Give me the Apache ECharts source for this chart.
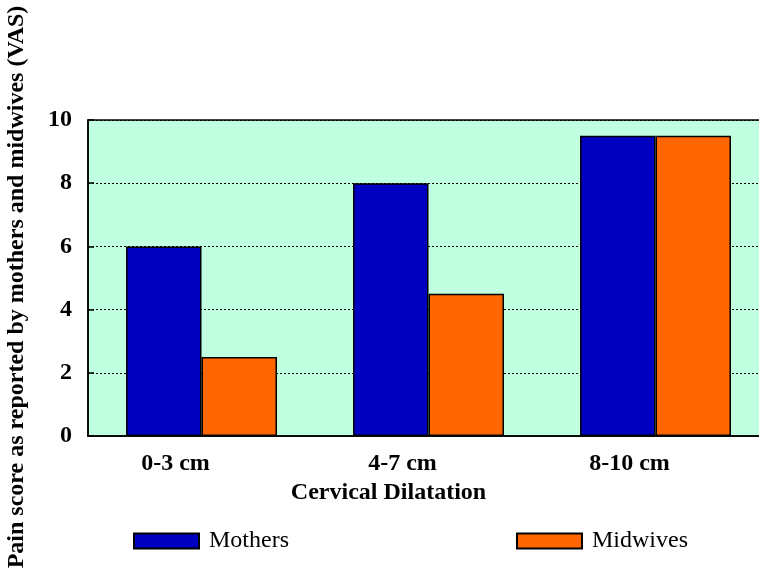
<!DOCTYPE html>
<html>
<head>
<meta charset="utf-8">
<script src="https://cdn.jsdelivr.net/npm/echarts@6/dist/echarts.min.js"></script>
<style>
  html, body { margin: 0; padding: 0; background: #fff; }
  #chart { width: 759px; height: 572px; }
</style>
</head>
<body>
<div id="chart"></div>
<script>
// Pain scores (VAS) by stage of cervical dilatation
const categories = ['0-3 cm', '4-7 cm', '8-10 cm'];
const mothers = [6, 8, 9.5];
const midwives = [2.5, 4.5, 9.5];
const yTicks = [0, 2, 4, 6, 8, 10];

const FONT = '"Liberation Serif", "Times New Roman", serif';
const FS = 24;

const chart = echarts.init(document.getElementById('chart'), null, { renderer: 'canvas' });

chart.setOption({
  backgroundColor: '#ffffff',
  animation: false,
  grid: {
    left: 88, width: 681, top: 120, height: 316,
    outerBoundsMode: 'none',
    containLabel: false,
    show: true,
    backgroundColor: '#c0ffe0',
    borderColor: '#000000',
    borderWidth: 1.5
  },
  legend: [
    {
      data: ['Mothers'],
      left: 128, top: 524,
      itemWidth: 65, itemHeight: 15, itemGap: 10,
      textStyle: { fontFamily: FONT, fontSize: FS, color: '#000', padding: [0, 0, 0, 5] },
      icon: 'rect'
    },
    {
      data: ['Midwives'],
      left: 511, top: 524,
      itemWidth: 65, itemHeight: 15, itemGap: 10,
      textStyle: { fontFamily: FONT, fontSize: FS, color: '#000', padding: [0, 0, 0, 5] },
      icon: 'rect'
    }
  ],
  xAxis: {
    type: 'category',
    data: categories,
    name: 'Cervical Dilatation',
    nameLocation: 'middle',
    nameGap: 44,
    nameTextStyle: {
      fontFamily: FONT, fontSize: FS, fontWeight: 'bold', color: '#000',
      padding: [0, 0, 0, -80]
    },
    axisLine: { show: true, lineStyle: { color: '#000', width: 1.5 } },
    axisTick: { show: false },
    axisLabel: {
      fontFamily: FONT, fontSize: FS, fontWeight: 'bold', color: '#000',
      margin: 16,
      padding: [0, 52, 0, 0]
    }
  },
  yAxis: {
    type: 'value',
    min: yTicks[0],
    max: yTicks[yTicks.length - 1],
    interval: 2,
    name: 'Pain score as reported by mothers and midwives (VAS)',
    nameLocation: 'middle',
    nameGap: 59,
    nameRotate: 90,
    nameTextStyle: {
      fontFamily: FONT, fontSize: FS, fontWeight: 'bold', color: '#000',
      padding: [0, 18, 0, 0]
    },
    axisLine: { show: true, lineStyle: { color: '#000', width: 1.5 } },
    axisTick: { show: true, inside: true, length: 6, lineStyle: { color: '#000', width: 1.5 } },
    axisLabel: {
      fontFamily: FONT, fontSize: FS, fontWeight: 'bold', color: '#000',
      margin: 16
    },
    splitLine: {
      show: true,
      lineStyle: { color: '#000', type: [2, 2], width: 1 }
    }
  },
  series: [
    {
      name: 'Mothers',
      type: 'bar',
      data: mothers,
      barGap: '0%',
      barCategoryGap: '33.5%',
      itemStyle: { color: '#0000c0', borderColor: '#000', borderWidth: 1.5 }
    },
    {
      name: 'Midwives',
      type: 'bar',
      data: midwives,
      itemStyle: { color: '#ff6600', borderColor: '#000', borderWidth: 1.5 }
    }
  ]
});
</script>
</body>
</html>
